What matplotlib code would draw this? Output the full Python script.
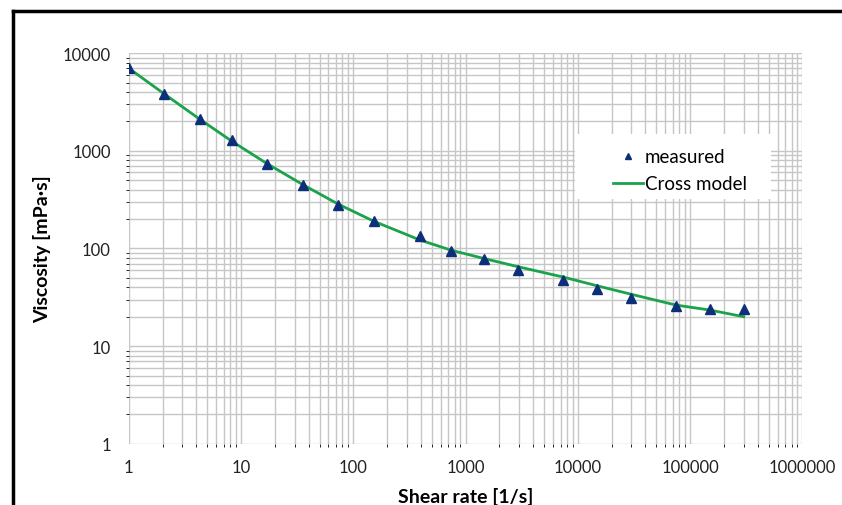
import matplotlib.pyplot as plt
from matplotlib.lines import Line2D
from matplotlib.patches import Rectangle

plt.rcParams['font.family'] = ['Lato', 'DejaVu Sans']

# measured points
shear_rate = [1, 2.05, 4.3, 8.3, 17, 35.5, 73, 152, 392, 742, 1450, 2930,
              7370, 14800, 29700, 75000, 150000, 300000]
viscosity = [7000, 3800, 2100, 1290, 730, 446, 279, 191, 134, 94, 78, 60,
             48, 38.5, 31.2, 25.8, 24, 24]

# cross model curve
model_rate = [1, 2.05, 4.3, 8.3, 17, 35.5, 73, 152, 392, 742, 1450, 2930,
              7370, 14800, 29700, 75000, 150000, 300000]
model_visc = [7000, 3850, 2100, 1250, 740, 450, 285, 190, 122, 96, 79, 65,
              51, 41.5, 34, 26.3, 23.4, 20]

xticks = [1, 10, 100, 1000, 10000, 100000, 1000000]
yticks = [1, 10, 100, 1000, 10000]

fig = plt.figure(figsize=(8.42, 5.06), dpi=100)
ax = fig.add_axes([0.153, 0.121, 0.8, 0.772])

ax.plot(model_rate, model_visc, color='#1aa34a', lw=2, zorder=3)
ax.plot(shear_rate, viscosity, ls='none', marker='^', ms=6.5,
        color='#0d2f7a', zorder=4)

ax.set_xscale('log')
ax.set_yscale('log')
ax.set_xlim(1, 1e6)
ax.set_ylim(1, 1e4)
ax.set_xticks(xticks)
ax.set_xticklabels([str(v) for v in xticks])
ax.set_yticks(yticks)
ax.set_yticklabels([str(v) for v in yticks])
ax.tick_params(length=0, labelsize=12, colors='#222222', pad=11)
ax.tick_params(axis='y', pad=13)

ax.grid(True, which='major', color='#c6c6c6', lw=1)
ax.grid(True, which='minor', color='#c6c6c6', lw=1)
for s in ax.spines.values():
    s.set_visible(False)

ax.set_xlabel('Shear rate [1/s]', fontsize=14, fontweight='bold')
ax.set_ylabel('Viscosity [mPa·s]', fontsize=14, fontweight='bold')
ax.xaxis.set_label_coords(0.5, -0.11)
ax.yaxis.set_label_coords(-0.116, 0.5)

# white legend background
ax.add_patch(Rectangle((0.663, 0.627), 0.29, 0.166, transform=ax.transAxes,
                       facecolor='white', edgecolor='none', zorder=5))

handles = [Line2D([], [], ls='none', marker='^', ms=5, color='#0d2f7a'),
           Line2D([], [], color='#1aa34a', lw=2)]
leg = ax.legend(handles, ['measured', 'Cross model'], loc='upper left',
                bbox_to_anchor=(0.694, 0.80), frameon=False, fontsize=13.5,
                handlelength=1.6, handletextpad=0.1, labelspacing=0.55)
leg.set_zorder(6)

# outer frame (top and left edges visible)
fig.add_artist(Line2D([0.0155, 0.0155], [0.0, 0.976], color='black', lw=2.5,
                      transform=fig.transFigure))
fig.add_artist(Line2D([0.0155, 1.0], [0.976, 0.976], color='black', lw=2.5,
                      transform=fig.transFigure))

fig.savefig('out.png', dpi=100)
